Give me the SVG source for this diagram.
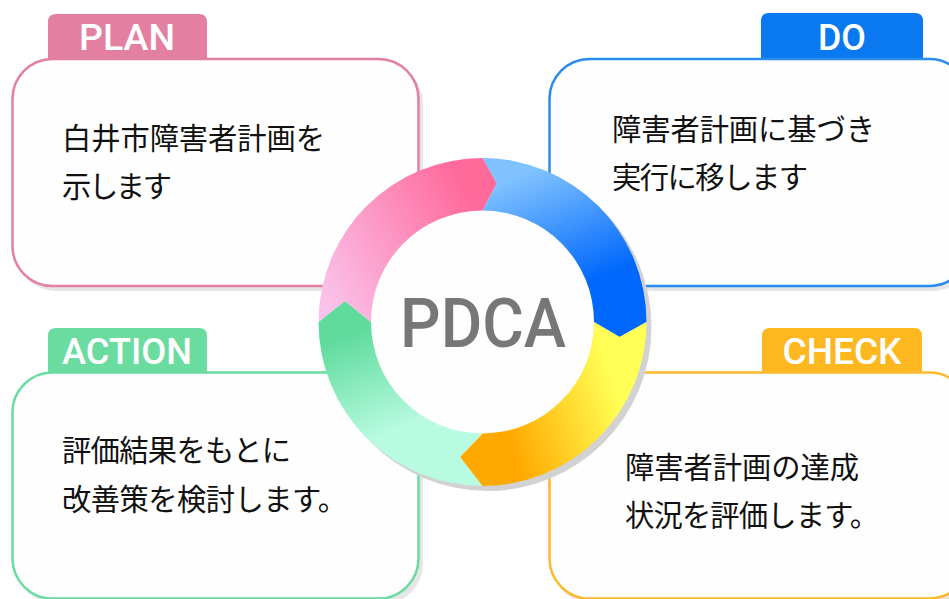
<svg xmlns="http://www.w3.org/2000/svg" width="949" height="599" viewBox="0 0 949 599">
<style>
.box{fill:#fefefe;stroke-width:2.500}
.shadow{fill:#e6e6e6}
.tag{font-family:"Roboto","Liberation Sans",sans-serif;font-weight:500;font-size:36px;fill:#fff;text-anchor:middle}
.body{font-family:"Noto Sans CJK JP","Noto Sans",sans-serif;font-size:29.300px;fill:#111}
</style>
<defs>
<linearGradient id="gp" gradientUnits="userSpaceOnUse" x1="325" y1="300" x2="480" y2="215"><stop offset="0" stop-color="#fac2ea"/><stop offset="1" stop-color="#ff6a9b"/></linearGradient>
<linearGradient id="gb" gradientUnits="userSpaceOnUse" x1="535" y1="170" x2="580" y2="285"><stop offset="0" stop-color="#80c2ff"/><stop offset="1" stop-color="#0068fc"/></linearGradient>
<linearGradient id="gy" gradientUnits="userSpaceOnUse" x1="625" y1="420" x2="515" y2="455"><stop offset="0" stop-color="#ffff55"/><stop offset="1" stop-color="#ffa900"/></linearGradient>
<linearGradient id="gg" gradientUnits="userSpaceOnUse" x1="345" y1="335" x2="385" y2="435"><stop offset="0" stop-color="#5fdb9c"/><stop offset="1" stop-color="#b8fbe1"/></linearGradient>
</defs>
<rect width="949" height="599" fill="#fff"/>
<g id="plan">
<rect class="shadow" x="16" y="63" width="407" height="228" rx="40"/>
<path fill="#e37fa1" d="M48 60V22q0-8 8-8H199q8 0 8 8V60Z"/>
<rect class="box" stroke="#e37fa1" x="12.500" y="59" width="406" height="227" rx="40"/>
<text class="tag" x="127" y="50" textLength="96" lengthAdjust="spacingAndGlyphs">PLAN</text>
<text class="body" x="62" y="149" textLength="263">白井市障害者計画を</text>
<text class="body" x="62" y="197" textLength="110">示します</text>
</g>
<g id="do">
<rect class="shadow" x="553" y="63" width="420" height="228" rx="40"/>
<path fill="#0a78ee" d="M761 60V21q0-8 8-8H915q8 0 8 8V60Z"/>
<rect class="box" stroke="#2a8cf0" x="549.500" y="59" width="420" height="227" rx="40"/>
<text class="tag" x="842" y="50" textLength="48" lengthAdjust="spacingAndGlyphs">DO</text>
<text class="body" x="612" y="140" textLength="263">障害者計画に基づき</text>
<text class="body" x="612" y="188" textLength="196">実行に移します</text>
</g>
<g id="action">
<rect class="shadow" x="16" y="376" width="407" height="228" rx="40"/>
<path fill="#6bdca0" d="M48 373V336q0-8 8-8H199q8 0 8 8V373Z"/>
<rect class="box" stroke="#6bdca0" x="12.500" y="372.500" width="406" height="226" rx="40"/>
<text class="tag" x="127" y="364" textLength="130" lengthAdjust="spacingAndGlyphs">ACTION</text>
<text class="body" x="62" y="461" textLength="229">評価結果をもとに</text>
<text class="body" x="62" y="510" textLength="285">改善策を検討します。</text>
</g>
<g id="check">
<rect class="shadow" x="553" y="376" width="420" height="228" rx="40"/>
<path fill="#fdb71f" d="M762 373V336q0-8 8-8H914q8 0 8 8V373Z"/>
<rect class="box" stroke="#fdb92e" x="549.500" y="372.500" width="420" height="226" rx="40"/>
<text class="tag" x="842" y="364" textLength="119" lengthAdjust="spacingAndGlyphs">CHECK</text>
<text class="body" x="625" y="478" textLength="234">障害者計画の達成</text>
<text class="body" x="625" y="526" textLength="254">状況を評価します。</text>
</g>
<g id="connectors">
<circle cx="487.500" cy="327" r="164" fill="#d2d2d2"/>
<circle cx="482.500" cy="322" r="140" fill="#fefefe"/>
<path fill="url(#gb)" d="M482.500 158A164 164 0 0 1 646.500 322L619.500 337L594 322A111.500 111.500 0 0 0 482.500 210.500L496.700 183.500Z"/>
<path fill="url(#gy)" d="M646.500 322A164 164 0 0 1 482.500 486L460 457L482.500 433.500A111.500 111.500 0 0 0 594 322L619.500 337Z"/>
<path fill="url(#gg)" d="M482.500 486A164 164 0 0 1 318.500 322L345 301L371 322A111.500 111.500 0 0 0 482.500 433.500L460 457Z"/>
<path fill="url(#gp)" d="M318.500 322A164 164 0 0 1 482.500 158L496.700 183.500L482.500 210.500A111.500 111.500 0 0 0 371 322L345 301Z"/>
</g>
<g id="pdca">
<text x="483" y="347" font-family="Roboto,'Liberation Sans',sans-serif" font-weight="500" font-size="69" fill="#777" text-anchor="middle" textLength="166" lengthAdjust="spacingAndGlyphs">PDCA</text>
</g>
</svg>
